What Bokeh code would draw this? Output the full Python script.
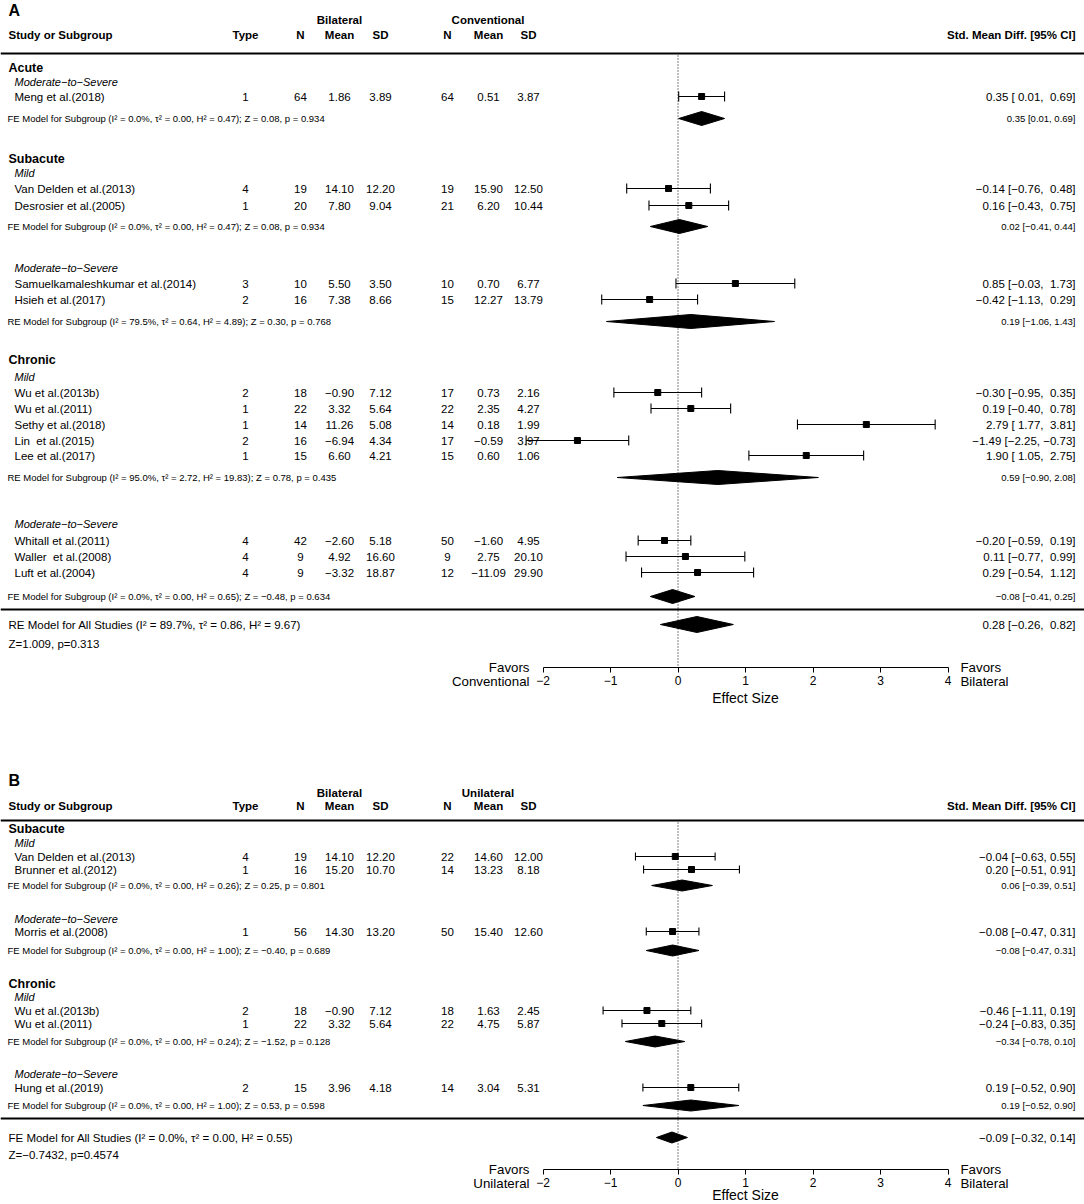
from bokeh.plotting import figure
from bokeh.models import Range1d, Span, FixedTicker, CustomJSTickFormatter, LinearAxis, ColumnDataSource
from bokeh.embed import file_html
from bokeh.resources import INLINE
from bokeh.core.properties import value

FONT = "Liberation Sans"
MINUS = "\u2212"
NBSP = "\u00a0"

# ---------------- shared ----------------
x_ticks = [-2, -1, 0, 1, 2, 3, 4]
col_headers = ["Type", "N", "Mean", "SD", "N", "Mean", "SD"]
treat_name = "Bilateral"

# ---------------- Panel A data ----------------
a_ctrl_name = "Conventional"
a_groups = ["Acute", "Subacute", "Chronic"]
a_subgroups = ["Moderate-to-Severe", "Mild", "Moderate-to-Severe", "Mild", "Moderate-to-Severe"]
a_study = ["Meng et al.(2018)", "Van Delden et al.(2013)", "Desrosier et al.(2005)",
           "Samuelkamaleshkumar et al.(2014)", "Hsieh et al.(2017)",
           "Wu et al.(2013b)", "Wu et al.(2011)", "Sethy et al.(2018)", "Lin  et al.(2015)",
           "Lee et al.(2017)", "Whitall et al.(2011)", "Waller  et al.(2008)", "Luft et al.(2004)"]
a_type = [1, 4, 1, 3, 2, 2, 1, 1, 2, 1, 4, 4, 4]
a_n1 = [64, 19, 20, 10, 16, 18, 22, 14, 16, 15, 42, 9, 9]
a_mean1 = [1.86, 14.10, 7.80, 5.50, 7.38, -0.90, 3.32, 11.26, -6.94, 6.60, -2.60, 4.92, -3.32]
a_sd1 = [3.89, 12.20, 9.04, 3.50, 8.66, 7.12, 5.64, 5.08, 4.34, 4.21, 5.18, 16.60, 18.87]
a_n2 = [64, 19, 21, 10, 15, 17, 22, 14, 17, 15, 50, 9, 12]
a_mean2 = [0.51, 15.90, 6.20, 0.70, 12.27, 0.73, 2.35, 0.18, -0.59, 0.60, -1.60, 2.75, -11.09]
a_sd2 = [3.87, 12.50, 10.44, 6.77, 13.79, 2.16, 4.27, 1.99, 3.97, 1.06, 4.95, 20.10, 29.90]
a_smd = [0.35, -0.14, 0.16, 0.85, -0.42, -0.30, 0.19, 2.79, -1.49, 1.90, -0.20, 0.11, 0.29]
a_lo = [0.01, -0.76, -0.43, -0.03, -1.13, -0.95, -0.40, 1.77, -2.25, 1.05, -0.59, -0.77, -0.54]
a_hi = [0.69, 0.48, 0.75, 1.73, 0.29, 0.35, 0.78, 3.81, -0.73, 2.75, 0.19, 0.99, 1.12]
a_sub_model = ["FE", "FE", "RE", "RE", "FE"]
a_sub_i2 = [0.0, 0.0, 79.5, 95.0, 0.0]
a_sub_tau2 = [0.00, 0.00, 0.64, 2.72, 0.00]
a_sub_h2 = [0.47, 0.47, 4.89, 19.83, 0.65]
a_sub_z = [0.08, 0.08, 0.30, 0.78, -0.48]
a_sub_p = [0.934, 0.934, 0.768, 0.435, 0.634]
a_sub_smd = [0.35, 0.02, 0.19, 0.59, -0.08]
a_sub_lo = [0.01, -0.41, -1.06, -0.90, -0.41]
a_sub_hi = [0.69, 0.44, 1.43, 2.08, 0.25]
a_all_model = "RE"
a_all_stats = [89.7, 0.86, 9.67]          # I2, tau2, H2
a_all_test = ["1.009", "0.313"]           # Z, p
a_all_ci = [0.28, -0.26, 0.82]            # SMD, lower, upper

# ---------------- Panel B data ----------------
b_ctrl_name = "Unilateral"
b_groups = ["Subacute", "Chronic"]
b_subgroups = ["Mild", "Moderate-to-Severe", "Mild", "Moderate-to-Severe"]
b_study = ["Van Delden et al.(2013)", "Brunner et al.(2012)", "Morris et al.(2008)",
           "Wu et al.(2013b)", "Wu et al.(2011)", "Hung et al.(2019)"]
b_type = [4, 1, 1, 2, 1, 2]
b_n1 = [19, 16, 56, 18, 22, 15]
b_mean1 = [14.10, 15.20, 14.30, -0.90, 3.32, 3.96]
b_sd1 = [12.20, 10.70, 13.20, 7.12, 5.64, 4.18]
b_n2 = [22, 14, 50, 18, 22, 14]
b_mean2 = [14.60, 13.23, 15.40, 1.63, 4.75, 3.04]
b_sd2 = [12.00, 8.18, 12.60, 2.45, 5.87, 5.31]
b_smd = [-0.04, 0.20, -0.08, -0.46, -0.24, 0.19]
b_lo = [-0.63, -0.51, -0.47, -1.11, -0.83, -0.52]
b_hi = [0.55, 0.91, 0.31, 0.19, 0.35, 0.90]
b_sub_model = ["FE", "FE", "FE", "FE"]
b_sub_i2 = [0.0, 0.0, 0.0, 0.0]
b_sub_tau2 = [0.00, 0.00, 0.00, 0.00]
b_sub_h2 = [0.26, 1.00, 0.24, 1.00]
b_sub_z = [0.25, -0.40, -1.52, 0.53]
b_sub_p = [0.801, 0.689, 0.128, 0.598]
b_sub_smd = [0.06, -0.08, -0.34, 0.19]
b_sub_lo = [-0.39, -0.47, -0.78, -0.52]
b_sub_hi = [0.51, 0.31, 0.10, 0.90]
b_all_model = "FE"
b_all_stats = [0.0, 0.00, 0.55]
b_all_test = ["-0.7432", "0.4574"]
b_all_ci = [-0.09, -0.32, 0.14]

# ---------------- layout (page pixel positions) ----------------
W, H = 1084, 1204
X0_PX, PX_PER_UNIT = 677.5, 67.5


def X(px):
    return (px - X0_PX) / PX_PER_UNIT


COL_X = [245, 300, 339, 380, 447, 488, 528]
TREAT_X, CTRL_X = 339, 487.5
NAME_X, GROUP_X, MODEL_X, RIGHT_X = 14, 8, 7, 1075
FAV_L_X, FAV_R_X = 529, 960

layout_A = dict(letter=10, hgroup=19, hcols=34, rule1=53,
                group_y=[67, 158, 359], sub_y=[81, 172, 267, 376, 523],
                row_y=[96, 188, 205, 283, 299, 392, 408, 424, 440, 455, 540, 556, 572],
                poly_y=[118, 226, 321, 477, 596], rule2=609, all_y=624, allz_y=643,
                axis=667, eff=30, cap=5, box=6, dia=7, dia_all=8)
layout_B = dict(letter=780, hgroup=792, hcols=805, rule1=820,
                group_y=[828, 983], sub_y=[842, 918, 996, 1073],
                row_y=[856, 869, 931, 1010, 1023, 1087],
                poly_y=[885, 950, 1041, 1105], rule2=1118, all_y=1137, allz_y=1154,
                axis=1169, eff=25, cap=4, box=6, dia=5.5, dia_all=5.5)


def fmt(v, nd=2):
    return f"{v:.{nd}f}".replace("-", MINUS)


def padcol(vals):
    s = [fmt(v) for v in vals]
    w = max(len(t) for t in s)
    return [NBSP * (w - len(t)) + t for t in s]


def txt(p, xs, ys, texts, size, align="left", style="normal"):
    p.text(x=xs, y=ys, text=texts, text_font=value(FONT), text_font_size=size,
           text_align=align, text_baseline="middle", text_font_style=style, text_color="black")


p = figure(width=W, height=H, x_range=Range1d(X(0), X(W)), y_range=Range1d(H, 0),
           output_backend="svg", toolbar_location=None,
           x_axis_location=None, y_axis_location=None,
           min_border_left=0, min_border_right=0, min_border_top=0, min_border_bottom=0,
           background_fill_color="white", border_fill_color="white")
p.outline_line_color = None
p.grid.visible = False


def panel(letter, ctrl, groups, subgroups, study, typ, n1, m1, s1, n2, m2, s2, smd, lo, hi,
          sub_model, sub_i2, sub_tau2, sub_h2, sub_z, sub_p, sub_smd, sub_lo, sub_hi,
          all_model, all_stats, all_test, all_ci, L):
    axis_y = L["axis"]

    # header
    txt(p, [X(GROUP_X)], [L["letter"]], [letter], "16px", "left", "bold")
    txt(p, [X(TREAT_X), X(CTRL_X)], [L["hgroup"]] * 2, [treat_name, ctrl], "11.5px", "center", "bold")
    txt(p, [X(GROUP_X)], [L["hcols"]], ["Study or Subgroup"], "11.5px", "left", "bold")
    txt(p, [X(c) for c in COL_X], [L["hcols"]] * 7, col_headers, "11.5px", "center", "bold")
    txt(p, [X(RIGHT_X)], [L["hcols"]], ["Std. Mean Diff. [95% CI]"], "11.5px", "right", "bold")
    p.add_layout(Span(location=L["rule1"], dimension="width", line_color="black", line_width=2))
    p.add_layout(Span(location=L["rule2"], dimension="width", line_color="black", line_width=2))

    # reference line
    p.segment(x0=[0], x1=[0], y0=[L["rule1"] + 2], y1=[axis_y], line_color="black",
              line_width=1, line_dash="1 2")

    # group / subgroup labels
    txt(p, [X(GROUP_X)] * len(groups), L["group_y"], groups, "12.5px", "left", "bold")
    txt(p, [X(NAME_X)] * len(subgroups), L["sub_y"],
        [s.replace("-", MINUS) for s in subgroups], "11px", "left", "italic")

    # study rows
    est_s = padcol(smd + [all_ci[0]])
    lo_s = padcol(lo + [all_ci[1]])
    hi_s = padcol(hi + [all_ci[2]])
    ci_text = [f"{e} [{l}, {h}]" for e, l, h in zip(est_s, lo_s, hi_s)]
    ys = L["row_y"]
    c = L["cap"]
    src = ColumnDataSource(dict(
        y=ys, yt=[y - c for y in ys], yb=[y + c for y in ys],
        name=[s.replace("  ", " " + NBSP) for s in study],
        typ=[str(t) for t in typ], n1=[str(v) for v in n1],
        m1=[fmt(v) for v in m1], s1=[fmt(v) for v in s1], n2=[str(v) for v in n2],
        m2=[fmt(v) for v in m2], s2=[fmt(v) for v in s2],
        smd=smd, lo=lo, hi=hi, ci=ci_text[:-1]))
    p.text(x=X(NAME_X), y="y", text="name", source=src, text_font=value(FONT),
           text_font_size="11.5px", text_baseline="middle", text_align="left", text_color="black")
    for cx, field in zip(COL_X, ["typ", "n1", "m1", "s1", "n2", "m2", "s2"]):
        p.text(x=X(cx), y="y", text=field, source=src, text_font=value(FONT),
               text_font_size="11.5px", text_baseline="middle", text_align="center",
               text_color="black")
    p.text(x=X(RIGHT_X), y="y", text="ci", source=src, text_font=value(FONT),
           text_font_size="11.5px", text_baseline="middle", text_align="right", text_color="black")
    p.segment(x0="lo", x1="hi", y0="y", y1="y", source=src, line_color="black", line_width=1.1)
    p.segment(x0="lo", x1="lo", y0="yt", y1="yb", source=src, line_color="black", line_width=1.1)
    p.segment(x0="hi", x1="hi", y0="yt", y1="yb", source=src, line_color="black", line_width=1.1)
    p.scatter(x="smd", y="y", source=src, marker="square", size=L["box"], color="black")

    # subgroup summaries
    py = L["poly_y"]
    d = L["dia"]
    sub_lab = [f"{m} Model for Subgroup (I\u00b2 = {i2:.1f}%, \u03c4\u00b2 = {t2:.2f}, "
               f"H\u00b2 = {h2:.2f}); Z = {fmt(z)}, p = {pv:.3f}"
               for m, i2, t2, h2, z, pv in zip(sub_model, sub_i2, sub_tau2, sub_h2, sub_z, sub_p)]
    txt(p, [X(MODEL_X)] * len(py), py, sub_lab, "9.5px", "left")
    txt(p, [X(RIGHT_X)] * len(py), py,
        [f"{fmt(e)} [{fmt(l)}, {fmt(h)}]" for e, l, h in zip(sub_smd, sub_lo, sub_hi)],
        "9.5px", "right")
    p.patches(xs=[[l, e, h, e] for e, l, h in zip(sub_smd, sub_lo, sub_hi)],
              ys=[[y, y - d, y, y + d] for y in py], fill_color="black", line_color="black")

    # overall
    da = L["dia_all"]
    ay = L["all_y"]
    txt(p, [X(GROUP_X)], [ay],
        [f"{all_model} Model for All Studies (I\u00b2 = {all_stats[0]:.1f}%, "
         f"\u03c4\u00b2 = {all_stats[1]:.2f}, H\u00b2 = {all_stats[2]:.2f})"], "11.5px")
    txt(p, [X(GROUP_X)], [L["allz_y"]],
        [f"Z={all_test[0].replace('-', MINUS)}, p={all_test[1]}"], "11.5px")
    txt(p, [X(RIGHT_X)], [ay], [ci_text[-1]], "11.5px", "right")
    p.patches(xs=[[all_ci[1], all_ci[0], all_ci[2], all_ci[0]]],
              ys=[[ay, ay - da, ay, ay + da]], fill_color="black", line_color="black")

    # axis (drawn at a fixed location inside the frame)
    ax = LinearAxis(fixed_location=axis_y)
    ax.bounds = (x_ticks[0], x_ticks[-1])
    ax.ticker = FixedTicker(ticks=x_ticks)
    ax.formatter = CustomJSTickFormatter(
        code="return tick < 0 ? '\\u2212' + Math.abs(tick) : String(tick);")
    ax.minor_tick_line_color = None
    ax.major_tick_in = 0
    ax.major_tick_out = 5
    ax.major_label_standoff = 3
    ax.axis_line_color = "black"
    ax.major_tick_line_color = "black"
    ax.major_label_text_color = "black"
    ax.major_label_text_font = FONT
    ax.major_label_text_font_size = "12px"
    p.add_layout(ax, "below")
    txt(p, [(x_ticks[0] + x_ticks[-1]) / 2], [axis_y + L["eff"]], ["Effect Size"], "14px", "center")

    txt(p, [X(FAV_L_X)] * 2, [axis_y, axis_y + 14], ["Favors", ctrl], "13.3px", "right")
    txt(p, [X(FAV_R_X)] * 2, [axis_y, axis_y + 14], ["Favors", treat_name], "13.3px", "left")


panel("A", a_ctrl_name, a_groups, a_subgroups, a_study, a_type, a_n1, a_mean1, a_sd1,
      a_n2, a_mean2, a_sd2, a_smd, a_lo, a_hi, a_sub_model, a_sub_i2, a_sub_tau2,
      a_sub_h2, a_sub_z, a_sub_p, a_sub_smd, a_sub_lo, a_sub_hi,
      a_all_model, a_all_stats, a_all_test, a_all_ci, layout_A)
panel("B", b_ctrl_name, b_groups, b_subgroups, b_study, b_type, b_n1, b_mean1, b_sd1,
      b_n2, b_mean2, b_sd2, b_smd, b_lo, b_hi, b_sub_model, b_sub_i2, b_sub_tau2,
      b_sub_h2, b_sub_z, b_sub_p, b_sub_smd, b_sub_lo, b_sub_hi,
      b_all_model, b_all_stats, b_all_test, b_all_ci, layout_B)

open("out.html", "w").write(file_html(p, INLINE))
